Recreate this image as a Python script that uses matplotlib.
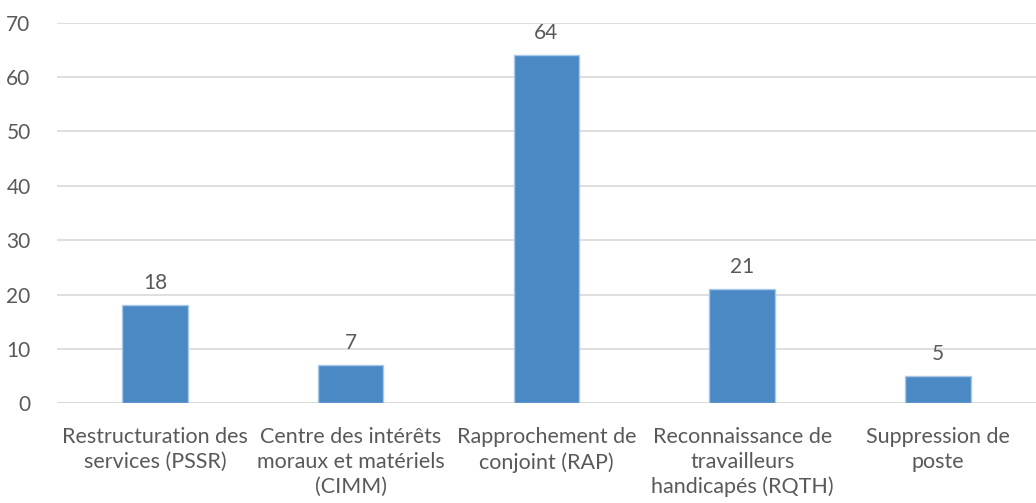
import matplotlib
matplotlib.use("Agg")
import matplotlib.pyplot as plt

categories = [
    "Restructuration des\nservices (PSSR)",
    "Centre des intérêts\nmoraux et matériels\n(CIMM)",
    "Rapprochement de\nconjoint (RAP)",
    "Reconnaissance de\ntravailleurs\nhandicapés (RQTH)",
    "Suppression de\nposte",
]
values = [18, 7, 64, 21, 5]
y_ticks = [0, 10, 20, 30, 40, 50, 60, 70]

text_color = "#595959"
bar_color = "#4a89c4"
edge_color = "#a9c8e8"
grid_color = "#d9d9d9"

plt.rcParams["font.family"] = ["Lato", "DejaVu Sans"]

fig = plt.figure(figsize=(10.36, 5.03), dpi=100)
ax = fig.add_axes([0.055, 0.198, 0.945, 0.757])

x = list(range(len(categories)))
bars = ax.bar(x, values, width=0.335, color=bar_color, edgecolor=edge_color,
              linewidth=1.0, zorder=3)

for xi, v in zip(x, values):
    ax.text(xi, v + 2.3, str(v), ha="center", va="bottom",
            fontsize=15, color=text_color)

ax.set_xlim(-0.5, len(categories) - 0.5)
ax.set_ylim(0, 70)
ax.set_yticks(y_ticks)
ax.set_yticklabels([str(t) for t in y_ticks], fontsize=15, color=text_color)
ax.set_xticks(x)
ax.set_xticklabels(categories, fontsize=15.5, color=text_color, linespacing=1.3)
ax.tick_params(axis="both", length=0)
ax.tick_params(axis="y", pad=19)
ax.tick_params(axis="x", pad=17)

ax.grid(axis="y", color=grid_color, linewidth=1.2, zorder=0)
ax.set_axisbelow(True)
for s in ax.spines.values():
    s.set_visible(False)
ax.axhline(0, color=grid_color, linewidth=1.2, zorder=1)

fig.savefig("out.png", dpi=100, facecolor="white")
